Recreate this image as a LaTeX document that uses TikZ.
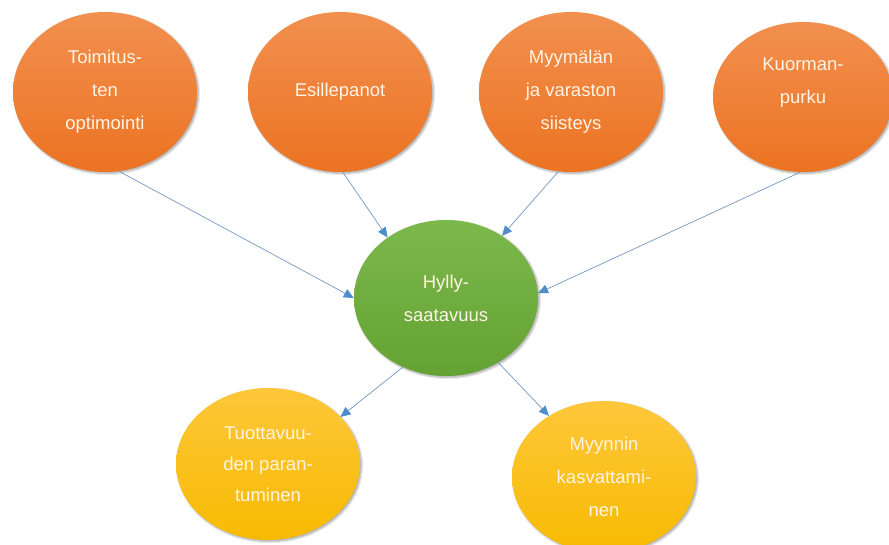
\documentclass[tikz,border=0pt]{standalone}
\usepackage{fontspec}
\setmainfont{Liberation Sans}
\usetikzlibrary{arrows.meta,shapes.geometric,shadows.blur}

\definecolor{oranssiyla}{HTML}{F2904F}
\definecolor{oranssiala}{HTML}{EC7322}
\definecolor{vihreayla}{HTML}{7DB84C}
\definecolor{vihreaala}{HTML}{64A233}
\definecolor{keltainenyla}{HTML}{FEC73A}
\definecolor{keltainenala}{HTML}{F7BA02}
\definecolor{tekstivari}{HTML}{FFF4E6}
\definecolor{viiva}{HTML}{7497C2}
\definecolor{karki}{HTML}{4D8DCC}

\tikzset{
	pallo/.style={ellipse, minimum width=184pt, minimum height=160pt, inner sep=0pt,
		align=center, text=tekstivari, font=\fontsize{18.5}{33}\selectfont,
		blur shadow={shadow blur steps=6, shadow xshift=1.5pt, shadow yshift=-1.5pt, shadow opacity=35}},
	oranssi/.style={pallo, top color=oranssiyla, bottom color=oranssiala},
	vihrea/.style={pallo, top color=vihreayla, bottom color=vihreaala},
	keltainen/.style={pallo, minimum height=152pt, top color=keltainenyla, bottom color=keltainenala},
	nuoli/.style={draw=viiva, line width=0.7pt, -{Triangle[length=10pt,width=9pt,color=karki]}}
}

\begin{document}
\begin{tikzpicture}[x=1pt,y=-1pt]
	\useasboundingbox (0,0) rectangle (889,545);
	\node[oranssi] (toimitukset) at (105,92) {Toimitus-\\ten\\optimointi};
	\node[oranssi] (esillepanot) at (340,92) {Esillepanot};
	\node[oranssi] (siisteys) at (571,92) {Myymälän\\ja varaston\\siisteys};
	\node[oranssi, minimum width=180pt, minimum height=150pt] (kuormanpurku) at (803,97) {Kuorman-\\purku\\\mbox{}};
	\node[vihrea, minimum height=156pt] (hylly) at (446,298) {Hylly-\\saatavuus};
	\node[keltainen, font=\fontsize{18.5}{31}\selectfont] (tuottavuus) at (268,464) {Tuottavuu-\\den paran-\\tuminen};
	\node[keltainen] (myynti) at (604,477) {Myynnin\\kasvattami-\\nen};
	\draw[nuoli] (toimitukset.-80) -- (hylly.180);
	\draw[nuoli] (esillepanot.-88) -- (hylly.134);
	\draw[nuoli] (siisteys.-99) -- (hylly.48);
	\draw[nuoli] (kuormanpurku.-92) -- (hylly.3);
	\draw[nuoli] (hylly.-122) -- (tuottavuus.33);
	\draw[nuoli] (hylly.-51) -- (myynti.132);
\end{tikzpicture}
\end{document}
